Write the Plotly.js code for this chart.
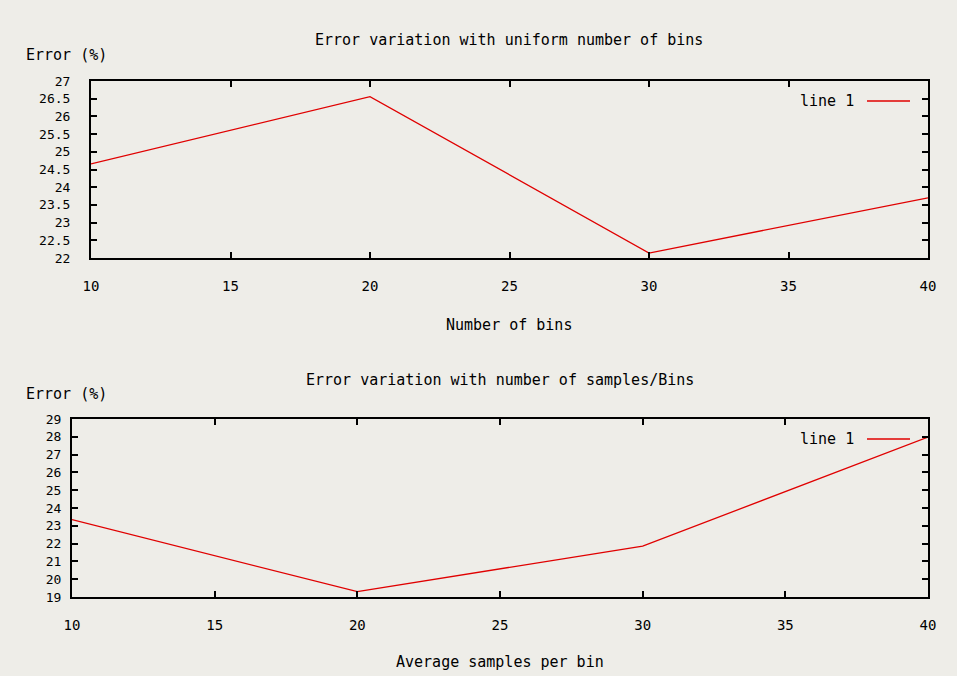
<!DOCTYPE html>
<html><head><meta charset="utf-8">
<script src="https://cdn.plot.ly/plotly-3.0.1.min.js"></script>
<style>html,body{margin:0;padding:0;background:#eeede8;}#c{width:957px;height:676px;}</style>
</head><body><div id="c"></div>
<script>
// Data
const binsX = [10, 20, 30, 40];
const binsErr = [24.66, 26.56, 22.14, 23.70];
const samplesX = [10, 20, 30, 40];
const samplesErr = [23.35, 19.30, 21.86, 27.98];
const xTicks = [10, 15, 20, 25, 30, 35, 40];
const seriesName = "line 1";
const titleTop = "Error variation with uniform number of bins";
const titleBottom = "Error variation with number of samples/Bins";
const xTitleTop = "Number of bins";
const xTitleBottom = "Average samples per bin";
const yTitle = "Error (%)";

const W = 957, H = 676;
const px = x => x / W;
const py = y => 1 - y / H;
const FONT = "DejaVu Sans Mono";
const RED = "#e00000";

const axBase = {
  showline: true, linecolor: "#000", linewidth: 2, mirror: "allticks",
  ticks: "inside", ticklen: 6, tickwidth: 2, tickcolor: "#000",
  showgrid: false, zeroline: false, fixedrange: true
};

const traces = [
  {x: binsX, y: binsErr, xaxis: "x", yaxis: "y", mode: "lines", name: seriesName,
   line: {color: RED, width: 1.3}, showlegend: false},
  {x: samplesX, y: samplesErr, xaxis: "x2", yaxis: "y2", mode: "lines", name: seriesName,
   line: {color: RED, width: 1.3}, showlegend: false}
];

function ann(text, x, y, size, xanchor) {
  return {text: text, xref: "paper", yref: "paper", x: px(x), y: py(y),
    xanchor: xanchor || "center", yanchor: "middle", showarrow: false,
    font: {family: FONT, size: size || 15, color: "#000"}};
}

const layout = {
  width: W, height: H,
  margin: {l: 0, r: 0, t: 0, b: 0},
  paper_bgcolor: "#eeede8", plot_bgcolor: "#eeede8",
  font: {family: FONT, color: "#000"},
  xaxis: Object.assign({}, axBase, {domain: [px(91), px(928)], range: [10, 40],
    tickvals: xTicks, anchor: "y", ticklabelstandoff: 14, tickfont: {family: FONT, size: 14}}),
  yaxis: Object.assign({}, axBase, {domain: [py(258), py(81)], range: [22, 27],
    dtick: 0.5, tick0: 22, anchor: "x", ticklabelstandoff: 16, tickfont: {family: FONT, size: 13}}),
  xaxis2: Object.assign({}, axBase, {domain: [px(72), px(928)], range: [10, 40],
    tickvals: xTicks, anchor: "y2", ticklabelstandoff: 14, tickfont: {family: FONT, size: 14}}),
  yaxis2: Object.assign({}, axBase, {domain: [py(597), py(419)], range: [19, 29],
    dtick: 1, tick0: 19, anchor: "x2", ticklabelstandoff: 6, tickfont: {family: FONT, size: 13}}),
  annotations: [
    ann(titleTop, 509, 40),
    ann(titleBottom, 500, 380),
    ann(xTitleTop, 509, 325),
    ann(xTitleBottom, 500, 662),
    ann(yTitle, 24, 55, 15, "left"),
    ann(yTitle, 24, 394, 15, "left"),
    ann(seriesName, 856, 101, 15, "right"),
    ann(seriesName, 856, 439, 15, "right")
  ],
  shapes: [
    {type: "line", xref: "paper", yref: "paper", x0: px(867), x1: px(910), y0: py(101), y1: py(101),
     line: {color: RED, width: 1.3}},
    {type: "line", xref: "paper", yref: "paper", x0: px(867), x1: px(910), y0: py(439), y1: py(439),
     line: {color: RED, width: 1.3}}
  ]
};

Plotly.newPlot("c", traces, layout, {displayModeBar: false, staticPlot: true});
</script>
</body></html>
